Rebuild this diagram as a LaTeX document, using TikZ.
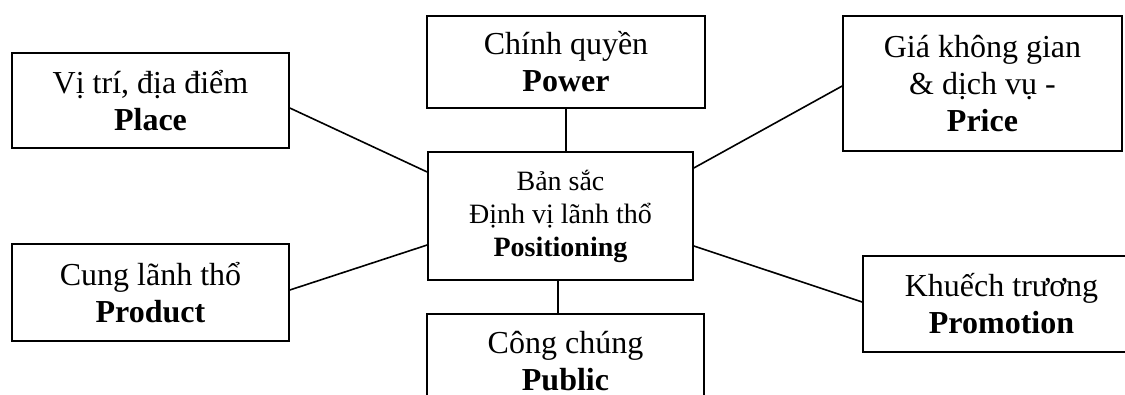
\documentclass[tikz,border=0pt]{standalone}
\usepackage{fontspec}
\setmainfont{Liberation Serif}
\begin{document}
\begin{tikzpicture}[x=1pt,y=-1pt,
  box/.style={draw=black,line width=1.6pt,fill=white,inner sep=0pt,align=center,
    font=\fontsize{32}{37}\selectfont},
  corebox/.style={box,font=\fontsize{28}{33}\selectfont},
  link/.style={draw=black,line width=1.6pt}]
\clip (0,0) rectangle (1125,394);
\fill[white] (0,0) rectangle (1125,394);
\node[box,minimum width=277pt,minimum height=95pt] (place) at (150.5,100.5)
  {Vị trí, địa điểm\\\textbf{Place}};
\node[box,minimum width=278pt,minimum height=92pt] (power) at (566,62)
  {Chính quyền\\\textbf{Power}};
\node[box,minimum width=279pt,minimum height=135pt] (price) at (982.5,83.5)
  {Giá không gian\\\& dịch vụ -\\\textbf{Price}};
\node[box,minimum width=277pt,minimum height=97pt] (product) at (150.5,292.5)
  {Cung lãnh thổ\\\textbf{Product}};
\node[corebox,minimum width=265pt,minimum height=128pt] (core) at (560.5,216)
  {Bản sắc\\Định vị lãnh thổ\\\textbf{Positioning}};
\node[box,minimum width=277pt,minimum height=95pt] (public) at (565.5,361.5)
  {Công chúng\\\textbf{Public}};
\node[box,minimum width=277pt,minimum height=96pt] (promo) at (1001.5,304)
  {Khuếch trương\\\textbf{Promotion}};
\draw[link] ([yshift=-7.5pt]place.east) -- ([yshift=44pt]core.west);
\draw[link] ([yshift=2.5pt]product.east) -- ([yshift=-29pt]core.west);
\draw[link] ([yshift=-2.5pt]price.west) -- ([yshift=48pt]core.east);
\draw[link] ([yshift=2pt]promo.west) -- ([yshift=-30pt]core.east);
\draw[link] (power.south) -- (power.south |- core.north);
\draw[link] ([xshift=-2.5pt]core.south) -- ([xshift=-2.5pt]core.south |- public.north);
\end{tikzpicture}
\end{document}
